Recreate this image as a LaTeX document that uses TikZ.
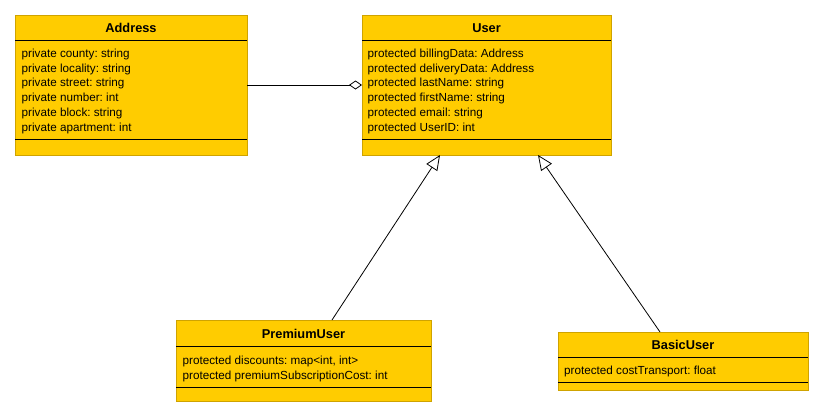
\documentclass[tikz,border=0pt]{standalone}
\usepackage{fontspec}
\setmainfont{Liberation Sans}
\frenchspacing
\usetikzlibrary{arrows.meta}
\definecolor{classfill}{HTML}{FFCC00}
\definecolor{classedge}{HTML}{CFA300}
\tikzset{
  classbox/.style={draw=classedge, fill=classfill, line width=1pt, inner sep=0pt, outer sep=0pt, anchor=north west},
  classname/.style={font=\fontsize{12.8}{14}\selectfont\bfseries, anchor=base, inner sep=0pt},
  attr/.style={font=\fontsize{11.7}{13}\selectfont, anchor=base west, inner sep=0pt},
  divider/.style={draw=black, line width=1pt},
  inherit/.style={-{Triangle[open,length=15pt,width=13pt]}, line width=0.8pt},
  aggr/.style={-{Diamond[open,length=13pt,width=9pt]}, line width=0.8pt},
}
\begin{document}
\begin{tikzpicture}[x=1pt, y=-1pt]
        \useasboundingbox (0,0) rectangle (824,418);
        % Address
        \node[classbox, minimum width=232pt, minimum height=140pt] (address) at (15,15) {};
        \node[classname] (addresstitle) at (131,32.5) {Address};
        \draw[divider] ([yshift=-25pt]address.north west) -- ([yshift=-25pt]address.north east);
        \draw[divider] ([yshift=16pt]address.south west) -- ([yshift=16pt]address.south east);
        \foreach \txt [count=\i] in {private county: string, private locality: string, private street: string, private number: int, private block: string, private apartment: int}
            \node[attr] (addressattr\i) at (21.5, 42.8+14.7*\i) {\txt};
        % User
        \node[classbox, minimum width=249pt, minimum height=140pt] (user) at (362,15) {};
        \node[classname] (usertitle) at (486.5,32.5) {User};
        \draw[divider] ([yshift=-25pt]user.north west) -- ([yshift=-25pt]user.north east);
        \draw[divider] ([yshift=16pt]user.south west) -- ([yshift=16pt]user.south east);
        \foreach \txt [count=\i] in {protected billingData: Address, protected deliveryData: Address, protected lastName: string, protected firstName: string, protected email: string, protected UserID: int}
            \node[attr] (userattr\i) at (367.5, 42.8+14.7*\i) {\txt};
        % PremiumUser
        \node[classbox, minimum width=255pt, minimum height=81pt] (premium) at (176,320) {};
        \node[classname] (premiumtitle) at (303.5,338) {PremiumUser};
        \draw[divider] ([yshift=-26pt]premium.north west) -- ([yshift=-26pt]premium.north east);
        \draw[divider] ([yshift=14pt]premium.south west) -- ([yshift=14pt]premium.south east);
        \foreach \txt [count=\i] in {{protected discounts: map<int, int>}, protected premiumSubscriptionCost: int}
            \node[attr] (premiumattr\i) at (182.5, 349+15*\i) {\txt};
        % BasicUser
        \node[classbox, minimum width=250pt, minimum height=58pt] (basic) at (558,332) {};
        \node[classname] (basictitle) at (683,349) {BasicUser};
        \draw[divider] ([yshift=-25pt]basic.north west) -- ([yshift=-25pt]basic.north east);
        \draw[divider] ([yshift=8pt]basic.south west) -- ([yshift=8pt]basic.south east);
        \node[attr] (basicattr1) at (564,374) {protected costTransport: float};
        % relations
        \draw[aggr] (address.east) -- (user.west);
        \draw[inherit] ([xshift=28.5pt]premium.north) -- ([xshift=-46.5pt]user.south);
        \draw[inherit] ([xshift=-23pt]basic.north) -- ([xshift=51.5pt]user.south);
    \end{tikzpicture}
\end{document}
